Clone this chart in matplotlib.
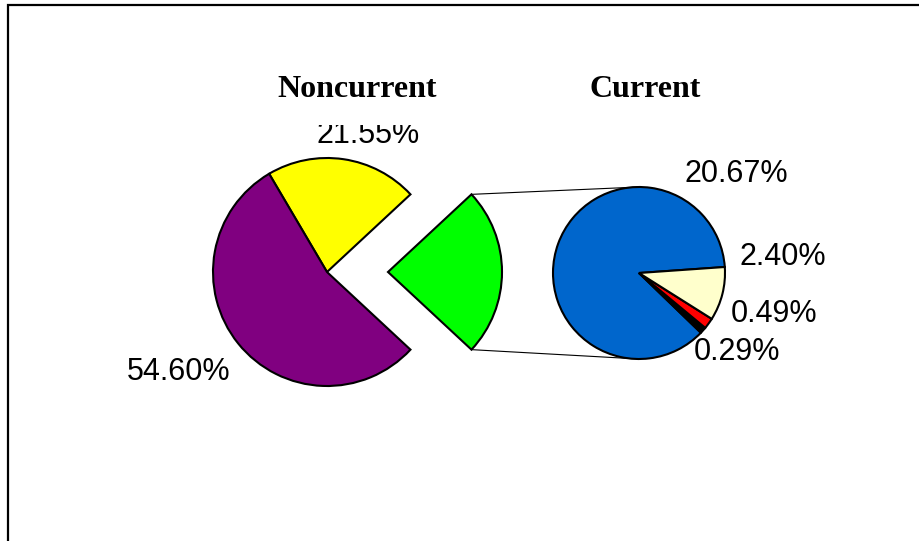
import numpy as np
import matplotlib
matplotlib.use("Agg")
import matplotlib.pyplot as plt
from matplotlib.patches import Rectangle
from matplotlib.transforms import Bbox, TransformedBbox

W, H = 919, 541

# shares of the total, in percent
noncurrent_pct = [54.60, 21.55]
noncurrent_colors = ["#800080", "#FFFF00"]
current_pct = [20.67, 0.29, 0.49, 2.40]
current_colors = ["#0066CC", "#000000", "#FF0000", "#FFFFCC"]
current_total = round(sum(current_pct), 2)

titles = ["Noncurrent", "Current"]

fig = plt.figure(figsize=(W / 100, H / 100), dpi=100)
ax = fig.add_axes([0, 0, 1, 1])

edge = dict(edgecolor="black", linewidth=1.5)

# main pie: current block pulled out to the right, then yellow, then purple
main_vals = [current_total, noncurrent_pct[1], noncurrent_pct[0]]
main_cols = ["#00FF00", noncurrent_colors[1], noncurrent_colors[0]]
c1, r1 = (327, H - 272), 114
wedges1, _ = ax.pie(main_vals, colors=main_cols, center=c1, radius=r1,
                    startangle=-current_total / 100 * 360 / 2,
                    explode=[61, 0, 0], wedgeprops=edge, frame=True)

# breakdown of the current block
c2, r2 = (639, H - 273), 86
wedges2, _ = ax.pie(current_pct, colors=current_colors, center=c2, radius=r2,
                    startangle=4, wedgeprops=edge, frame=True)

# connector lines from the pulled-out wedge to the second pie
g = wedges1[0]
gx, gy = g.center
for th, sy in [(g.theta2, 1), (g.theta1, -1)]:
    t = np.deg2rad(th)
    ax.plot([gx + g.r * np.cos(t), c2[0]], [gy + g.r * np.sin(t), c2[1] + sy * r2],
            color="black", lw=0.8, zorder=0)

lab = dict(fontsize=22, family=["Liberation Sans", "DejaVu Sans"],
           ha="center", va="baseline")

# percentage labels for the main pie
t_yel = ax.text(368, H - 143, f"{noncurrent_pct[1]:.2f}%", **lab)
t_yel.set_clip_box(TransformedBbox(Bbox([[0, 0], [W, H - 125]]), ax.transData))
t_yel.set_clip_on(True)
ax.text(179, H - 380, f"{noncurrent_pct[0]:.2f}%", **lab)

# labels for the second pie
for v, (x, y) in zip(current_pct, [(736, 182), (737, 360), (774, 322), (783, 265)]):
    ax.text(x, H - y, f"{v:.2f}%", **lab)

ttl = dict(fontsize=23, fontweight="bold", family=["Liberation Serif", "DejaVu Serif"],
           ha="center", va="baseline")
ax.text(357, H - 97, titles[0], **ttl)
ax.text(645, H - 97, titles[1], **ttl)

# outer frame
ax.add_patch(Rectangle((8, -20), W + 20, H - 5 + 20, fill=False,
                       edgecolor="black", linewidth=1.6))

ax.set_xlim(0, W)
ax.set_ylim(0, H)
ax.axis("off")

fig.savefig("out.png", dpi=100)
